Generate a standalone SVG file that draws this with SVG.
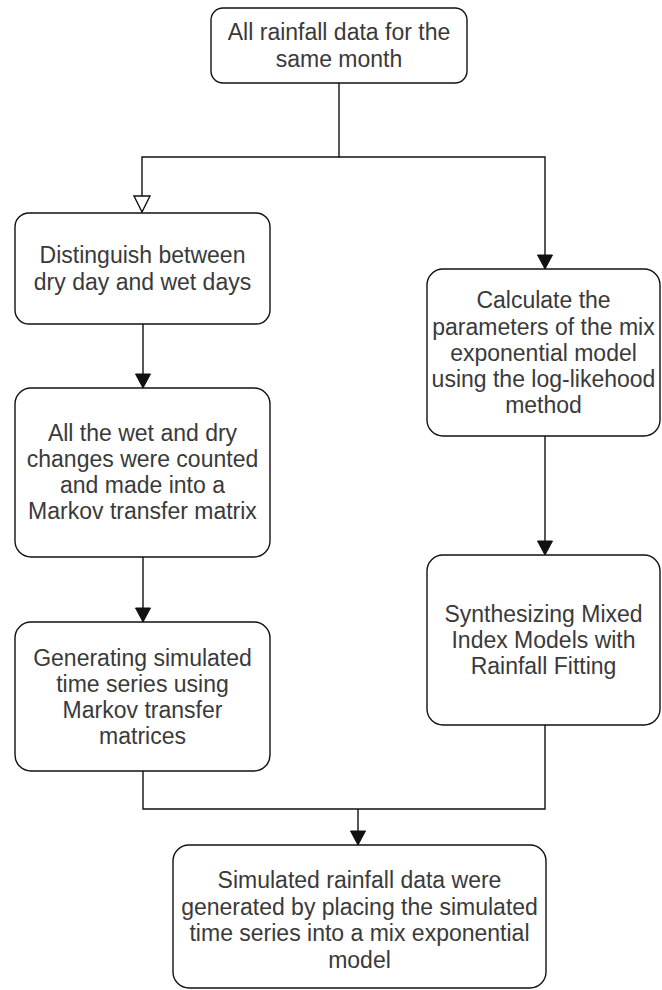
<svg xmlns="http://www.w3.org/2000/svg" width="662" height="990" viewBox="0 0 662 990">
<style>
.box{fill:#fff;stroke:#111;stroke-width:1.4}
.t{font-family:"Liberation Sans",Arial,sans-serif;font-size:23px;fill:#3a3a3a;text-anchor:middle;dominant-baseline:central}
.c{fill:none;stroke:#111;stroke-width:1.4}
</style>
<defs>
<marker id="fa" markerUnits="userSpaceOnUse" markerWidth="18" markerHeight="18" viewBox="0 0 18 18" refX="15" refY="9" orient="auto">
<path d="M1,1.5 L15,9 L1,16.5 Z" fill="#111" stroke="#111" stroke-width="1"/>
</marker>
<marker id="oa" markerUnits="userSpaceOnUse" markerWidth="20" markerHeight="20" viewBox="0 0 20 20" refX="17" refY="10" orient="auto">
<path d="M1,2 L17,10 L1,18 Z" fill="#fff" stroke="#111" stroke-width="1.4"/>
</marker>
</defs>
<rect width="662" height="990" fill="#fff"/>
<g id="connectors">
<path class="c" d="M339,83 V157 H142 V212" marker-end="url(#oa)"/>
<path class="c" d="M339,157 H545 V269" marker-end="url(#fa)"/>
<path class="c" d="M143,324 V388" marker-end="url(#fa)"/>
<path class="c" d="M143,557 V622" marker-end="url(#fa)"/>
<path class="c" d="M545,436 V555" marker-end="url(#fa)"/>
<path class="c" d="M143,771 V809 H545 V725"/>
<path class="c" d="M358,809 V845" marker-end="url(#fa)"/>
</g>
<g id="n1">
<rect class="box" x="211" y="8" width="256" height="75" rx="12"/>
<text class="t" x="339" y="32">All rainfall data for the</text>
<text class="t" x="339" y="59">same month</text>
</g>
<g id="n2">
<rect class="box" x="15" y="213" width="255" height="111" rx="14"/>
<text class="t" x="142.5" y="255">Distinguish between</text>
<text class="t" x="142.5" y="282">dry day and wet days</text>
</g>
<g id="n3">
<rect class="box" x="15" y="388" width="255" height="169" rx="16"/>
<text class="t" x="142.5" y="433">All the wet and dry</text>
<text class="t" x="142.5" y="459">changes were counted</text>
<text class="t" x="142.5" y="485">and made into a</text>
<text class="t" x="142.5" y="511">Markov transfer matrix</text>
</g>
<g id="n4">
<rect class="box" x="15" y="622" width="255" height="149" rx="16"/>
<text class="t" x="142.5" y="658">Generating simulated</text>
<text class="t" x="142.5" y="684">time series using</text>
<text class="t" x="142.5" y="710">Markov transfer</text>
<text class="t" x="142.5" y="736">matrices</text>
</g>
<g id="n5">
<rect class="box" x="427" y="269" width="233" height="167" rx="16"/>
<text class="t" x="543.5" y="300">Calculate the</text>
<text class="t" x="543.5" y="327">parameters of the mix</text>
<text class="t" x="543.5" y="353">exponential model</text>
<text class="t" x="543.5" y="379">using the log-likehood</text>
<text class="t" x="543.5" y="405">method</text>
</g>
<g id="n6">
<rect class="box" x="427" y="555" width="233" height="170" rx="16"/>
<text class="t" x="543.5" y="614">Synthesizing Mixed</text>
<text class="t" x="543.5" y="640">Index Models with</text>
<text class="t" x="543.5" y="666">Rainfall Fitting</text>
</g>
<g id="n7">
<rect class="box" x="173" y="845" width="373" height="143" rx="16"/>
<text class="t" x="359.5" y="880">Simulated rainfall data were</text>
<text class="t" x="359.5" y="907">generated by placing the simulated</text>
<text class="t" x="359.5" y="933">time series into a mix exponential</text>
<text class="t" x="359.5" y="960">model</text>
</g>
</svg>
